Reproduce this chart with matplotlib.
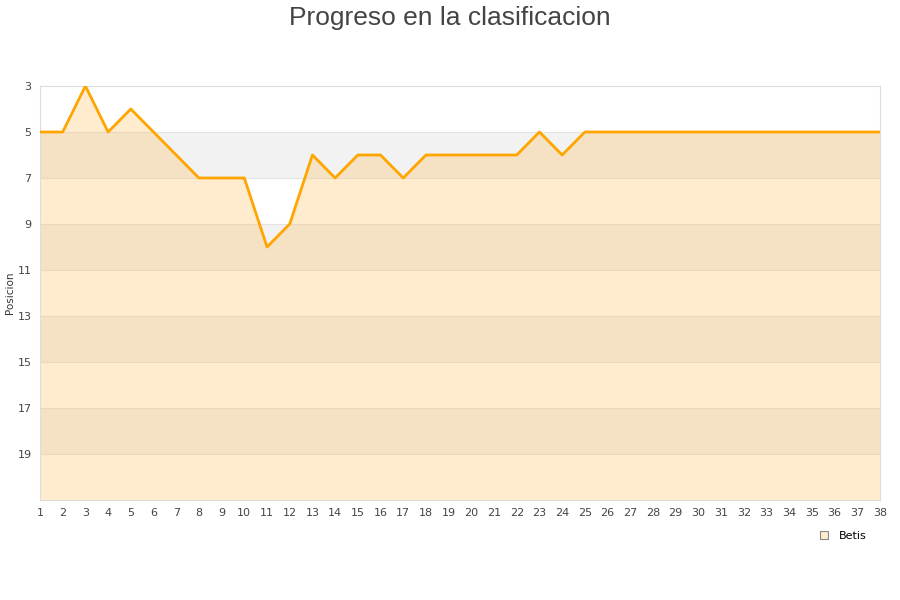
import numpy as np
import matplotlib.pyplot as plt

# Datos: jornada y posicion
jornadas = list(range(1, 39))
posicion = [5, 5, 3, 5, 4, 5, 6, 7, 7, 7, 10, 9, 6, 7, 6, 6, 7, 6, 6, 6,
            6, 6, 5, 6, 5, 5, 5, 5, 5, 5, 5, 5, 5, 5, 5, 5, 5, 5]
equipo = 'Betis'
y_ticks = [3, 5, 7, 9, 11, 13, 15, 17, 19]

fig = plt.figure(figsize=(9, 6), dpi=100)
ax = fig.add_axes([40 / 900, 100 / 600, 840 / 900, 414 / 600])

# Bandas de fondo alternas
for y0 in range(5, 21, 4):
    ax.axhspan(y0, y0 + 2, color='#f2f2f2', zorder=0, lw=0)
for y in range(5, 21, 2):
    ax.axhline(y, color='#e3e3e3', lw=0.8, zorder=1)

# Relleno bajo la linea y linea
ax.fill_between(jornadas, posicion, 21, color='#ffb43c', alpha=0.25, lw=0, zorder=2)
ax.plot(jornadas, posicion, color='#ffa500', lw=2, zorder=3, label=equipo)

ax.set_xlim(1, 38)
ax.set_ylim(21, 3)
ax.set_xticks(jornadas)
ax.set_yticks(y_ticks)
ax.tick_params(length=0, labelsize=8, colors='#444444', pad=6)
for s in ax.spines.values():
    s.set_color('#dddddd')
ax.set_ylabel('Posicion', fontsize=7.5, color='#333333', labelpad=2)

fig.suptitle('Progreso en la clasificacion', fontsize=19, color='#444444', y=0.99,
             family='Liberation Sans')

# Leyenda
h = plt.Line2D([], [], marker='s', ls='', markersize=6, markerfacecolor='#ffeccc',
               markeredgecolor='#888888', markeredgewidth=0.8)
fig.legend([h], [equipo], loc='center', bbox_to_anchor=(840 / 900, 1 - 536 / 600),
           frameon=False, fontsize=8, handletextpad=0.3, borderaxespad=0)

fig.savefig('out.png')
